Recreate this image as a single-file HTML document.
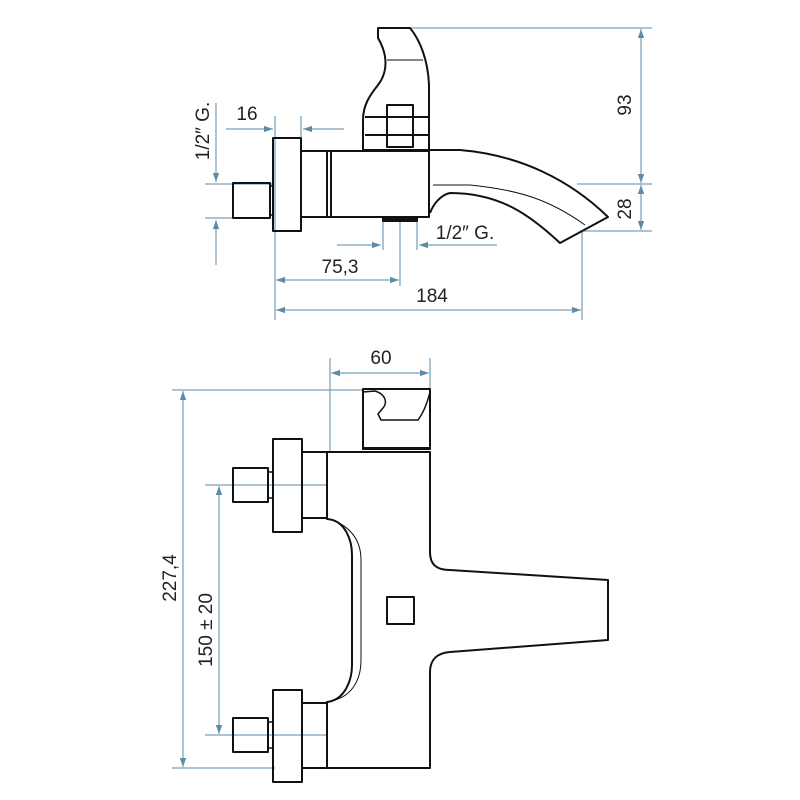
<!DOCTYPE html>
<html><head><meta charset="utf-8"><style>html,body{margin:0;padding:0;background:#fff}svg{display:block}</style></head>
<body>
<svg width="800" height="800" viewBox="0 0 800 800" xmlns="http://www.w3.org/2000/svg">
<defs>
<marker id="a" viewBox="0 0 10 10" refX="10" refY="5" markerWidth="9" markerHeight="9" orient="auto-start-reverse" markerUnits="userSpaceOnUse"><path d="M0,1.5 L10,5 L0,8.5 z" fill="#5b8ba6"/></marker>
</defs>
<g stroke="#5b8ba6" stroke-width="1" fill="none">
<!-- top dims -->
<line x1="410" y1="28" x2="652" y2="28"/>
<line x1="577" y1="184" x2="652" y2="184"/>
<line x1="580" y1="231" x2="652" y2="231"/>
<line x1="641" y1="29" x2="641" y2="183" marker-start="url(#a)" marker-end="url(#a)"/>
<line x1="641" y1="185" x2="641" y2="230" marker-start="url(#a)" marker-end="url(#a)"/>
<line x1="275" y1="116" x2="275" y2="320"/>
<line x1="301" y1="116" x2="301" y2="138"/>
<line x1="226" y1="129" x2="273" y2="129" marker-end="url(#a)"/>
<line x1="344" y1="129" x2="303" y2="129" marker-end="url(#a)"/>
<line x1="216" y1="103" x2="216" y2="182" marker-end="url(#a)"/>
<line x1="216" y1="265" x2="216" y2="220" marker-end="url(#a)"/>
<line x1="205" y1="184" x2="273" y2="184"/>
<line x1="205" y1="218" x2="233" y2="218"/>
<line x1="383" y1="217" x2="383" y2="250"/>
<line x1="400" y1="222" x2="400" y2="286"/>
<line x1="417" y1="222" x2="417" y2="250"/>
<line x1="337" y1="245" x2="381" y2="245" marker-end="url(#a)"/>
<line x1="497" y1="245" x2="419" y2="245" marker-end="url(#a)"/>
<line x1="276" y1="280" x2="399" y2="280" marker-start="url(#a)" marker-end="url(#a)"/>
<line x1="582" y1="231" x2="582" y2="320"/>
<line x1="276" y1="310" x2="581" y2="310" marker-start="url(#a)" marker-end="url(#a)"/>
<!-- bottom dims -->
<line x1="330" y1="358" x2="330" y2="452"/>
<line x1="430" y1="358" x2="430" y2="388"/>
<line x1="331" y1="373" x2="429" y2="373" marker-start="url(#a)" marker-end="url(#a)"/>
<line x1="172" y1="390" x2="363" y2="390"/>
<line x1="172" y1="768" x2="275" y2="768"/>
<line x1="183" y1="391" x2="183" y2="767" marker-start="url(#a)" marker-end="url(#a)"/>
<line x1="205" y1="485" x2="328" y2="485"/>
<line x1="205" y1="735" x2="328" y2="735"/>
<line x1="219" y1="486" x2="219" y2="734" marker-start="url(#a)" marker-end="url(#a)"/>
</g>
<g font-family="Liberation Sans, sans-serif" font-size="19" fill="#222">
<text x="247" y="120" text-anchor="middle">16</text>
<text x="340" y="273" text-anchor="middle">75,3</text>
<text x="432" y="302" text-anchor="middle">184</text>
<text x="465" y="239" text-anchor="middle">1/2″ G.</text>
<text transform="translate(631,105) rotate(-90)" text-anchor="middle">93</text>
<text transform="translate(631,209) rotate(-90)" text-anchor="middle">28</text>
<text transform="translate(209,131) rotate(-90)" text-anchor="middle">1/2″ G.</text>
<text x="381" y="364" text-anchor="middle">60</text>
<text transform="translate(176,578) rotate(-90)" text-anchor="middle">227,4</text>
<text transform="translate(212,630) rotate(-90)" text-anchor="middle">150 ± 20</text>
</g>
<g stroke="#111" stroke-width="2" fill="none" stroke-linejoin="round">
<!-- top view -->
<path d="M378,28 L410,28 C420,40 428,60 429,85 L429,150 L363,150 L363,120 C363,105 370,95 378,85 C388,72 388,55 378,38 Z"/>
<line x1="387" y1="60" x2="423" y2="60" stroke-width="1"/>
<rect x="387" y="105" width="26" height="42"/>
<line x1="365" y1="117" x2="429" y2="117"/>
<line x1="365" y1="135" x2="429" y2="135"/>
<rect x="301" y="151" width="128" height="66"/>
<line x1="327" y1="151" x2="327" y2="217"/>
<line x1="331" y1="151" x2="331" y2="217"/>
<rect x="273" y="138" width="28" height="93"/>
<rect x="233" y="183" width="37" height="35"/>
<rect x="270" y="186" width="3" height="29" stroke-width="1.5"/>
<rect x="383" y="217" width="34" height="4" fill="#111"/>
<path d="M429,150 L460,150 C520,155 570,180 608,217 L560,243 C530,215 500,193 450,193 C440,195 433,205 430,213"/>
<path d="M433,185 L470,185 C520,190 550,200 585,225" stroke-width="1"/>
<!-- bottom view -->
<rect x="363" y="389" width="67" height="60"/>
<path d="M363,392 L375,391 C385,394 388,402 383,408 L378,414 L381,420 L418,420 C424,412 428,400 430,392" stroke-width="1.5"/>
<line x1="363" y1="448" x2="430" y2="448"/>
<path d="M327,452 L430,452 L430,552 C430,565 437,570 450,570 L608,580 L608,640 L450,652 C437,653 430,660 430,672 L430,768 L327,768 L327,702 C345,700 352,680 352,665 L352,555 C352,540 345,520 327,519 Z"/>
<path d="M335,521 C355,530 361,545 361,560 L361,660 C361,680 352,695 335,700" stroke-width="1"/>
<rect x="387" y="597" width="27" height="27"/>
<rect x="273" y="439" width="29" height="93"/>
<rect x="302" y="452" width="25" height="66"/>
<rect x="233" y="468" width="35" height="34"/>
<rect x="268" y="472" width="5" height="26" stroke-width="1.5"/>
<rect x="273" y="690" width="29" height="92"/>
<rect x="302" y="703" width="25" height="65"/>
<rect x="233" y="718" width="35" height="34"/>
<rect x="268" y="722" width="5" height="26" stroke-width="1.5"/>
</g>
</svg>
</body></html>
